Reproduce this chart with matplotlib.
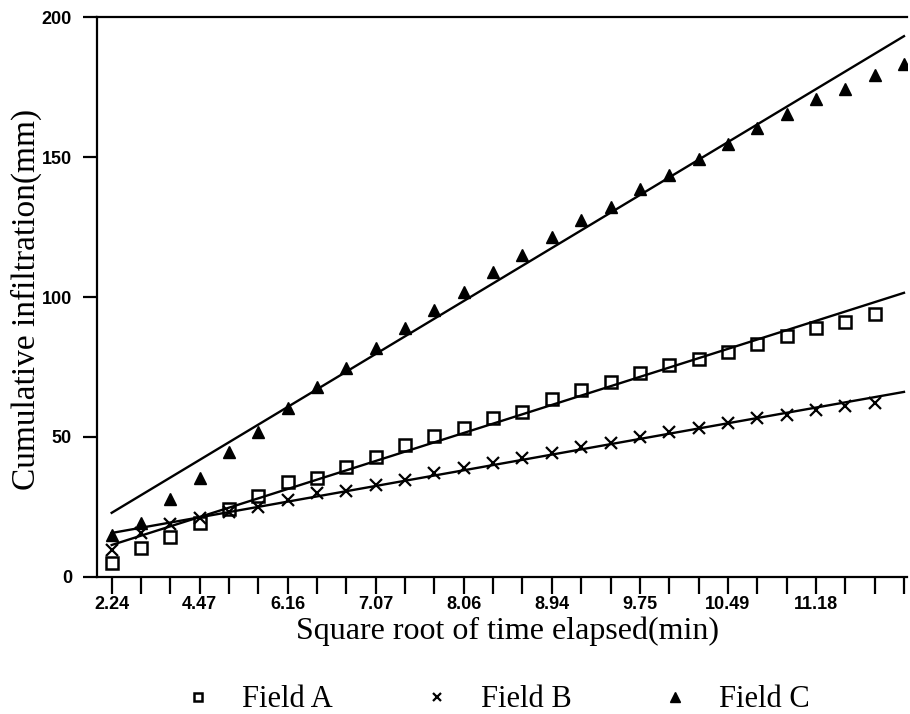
import numpy as np
import matplotlib.pyplot as plt

# Cumulative infiltration readings (mm) for each field
field_a = [5, 10.4, 14.3, 19.3, 24.3, 28.9, 34, 35.2, 39.4, 42.9, 47, 50.4,
           53.2, 56.7, 59, 63.6, 66.8, 69.8, 72.7, 75.7, 77.8, 80.5, 83.2,
           86, 88.8, 91.2, 94]
field_b = [9.6, 15.6, 18.9, 21, 23.3, 25, 27.5, 29.9, 30.8, 32.9, 34.6, 37.1,
           38.9, 40.7, 42.4, 44.3, 46.4, 47.9, 49.9, 51.8, 53.2, 55, 56.8,
           57.9, 59.6, 61, 62.1]
field_c = [15, 19.3, 27.9, 35.4, 44.7, 51.8, 60.4, 67.9, 74.6, 81.8, 88.9,
           95.4, 101.8, 109, 115, 121.4, 127.5, 132.1, 138.6, 143.6, 149.3,
           154.6, 160.4, 165.4, 170.7, 174.3, 179.3, 183.2]

# fitted lines (start and end values)
fit_a = [11.4, 101.5]
fit_b = [15.7, 66.1]
fit_c = [22.9, 193.2]

tick_labels = ['2.24', '4.47', '6.16', '7.07', '8.06', '8.94', '9.75',
               '10.49', '11.18']

fig = plt.figure(figsize=(9.1, 7.14), dpi=100)
ax = fig.add_axes([0.1066, 0.192, 0.89, 0.784])

xa = np.arange(len(field_a))
xb = np.arange(len(field_b))
xc = np.arange(len(field_c))
n = len(field_c) - 1

ax.plot(xa, field_a, 's', ms=8, mfc='none', mec='black', mew=1.8,
        label='Field A', linestyle='none')
ax.plot(xb, field_b, 'x', ms=8, color='black', mew=1.6,
        label='Field B', linestyle='none')
ax.plot(xc, field_c, '^', ms=9, color='black', label='Field C',
        linestyle='none')

ax.plot([0, n], fit_a, color='black', lw=1.7)
ax.plot([0, n], fit_b, color='black', lw=1.7)
ax.plot([0, n], fit_c, color='black', lw=1.7)

ax.set_xlim(-0.5, n + 0.1)
ax.set_ylim(0, 200)

ax.set_xticks(range(n + 1))
labels = [''] * (n + 1)
for i, t in enumerate(tick_labels):
    labels[i * 3] = t
ax.set_xticklabels(labels)
ax.set_yticks([0, 50, 100, 150, 200])

for lab in ax.get_xticklabels() + ax.get_yticklabels():
    lab.set_fontfamily('Liberation Sans')
    lab.set_fontweight('bold')
    lab.set_fontsize(13)

ax.tick_params(axis='x', direction='out', length=12, width=1.6, pad=2)
ax.tick_params(axis='y', direction='out', length=10, width=1.6, pad=8)

ax.spines['right'].set_visible(False)
for s in ['left', 'bottom', 'top']:
    ax.spines[s].set_linewidth(1.6)

ax.set_xlabel('Square root of time elapsed(min)', fontfamily='Liberation Serif',
              fontsize=23)
ax.xaxis.set_label_coords(0.507, -0.07)
ax.set_ylabel('Cumulative infiltration(mm)', fontfamily='Liberation Serif',
              fontsize=24)
ax.yaxis.set_label_coords(-0.068, 0.495)

fig.legend(loc='center', bbox_to_anchor=(0.5456, 0.02), ncol=3,
           frameon=False, prop={'family': 'Liberation Serif', 'size': 22},
           markerscale=0.8, handlelength=1.0, handletextpad=0.94,
           columnspacing=2.9, borderpad=0.1)

fig.savefig('out.png', dpi=100)
